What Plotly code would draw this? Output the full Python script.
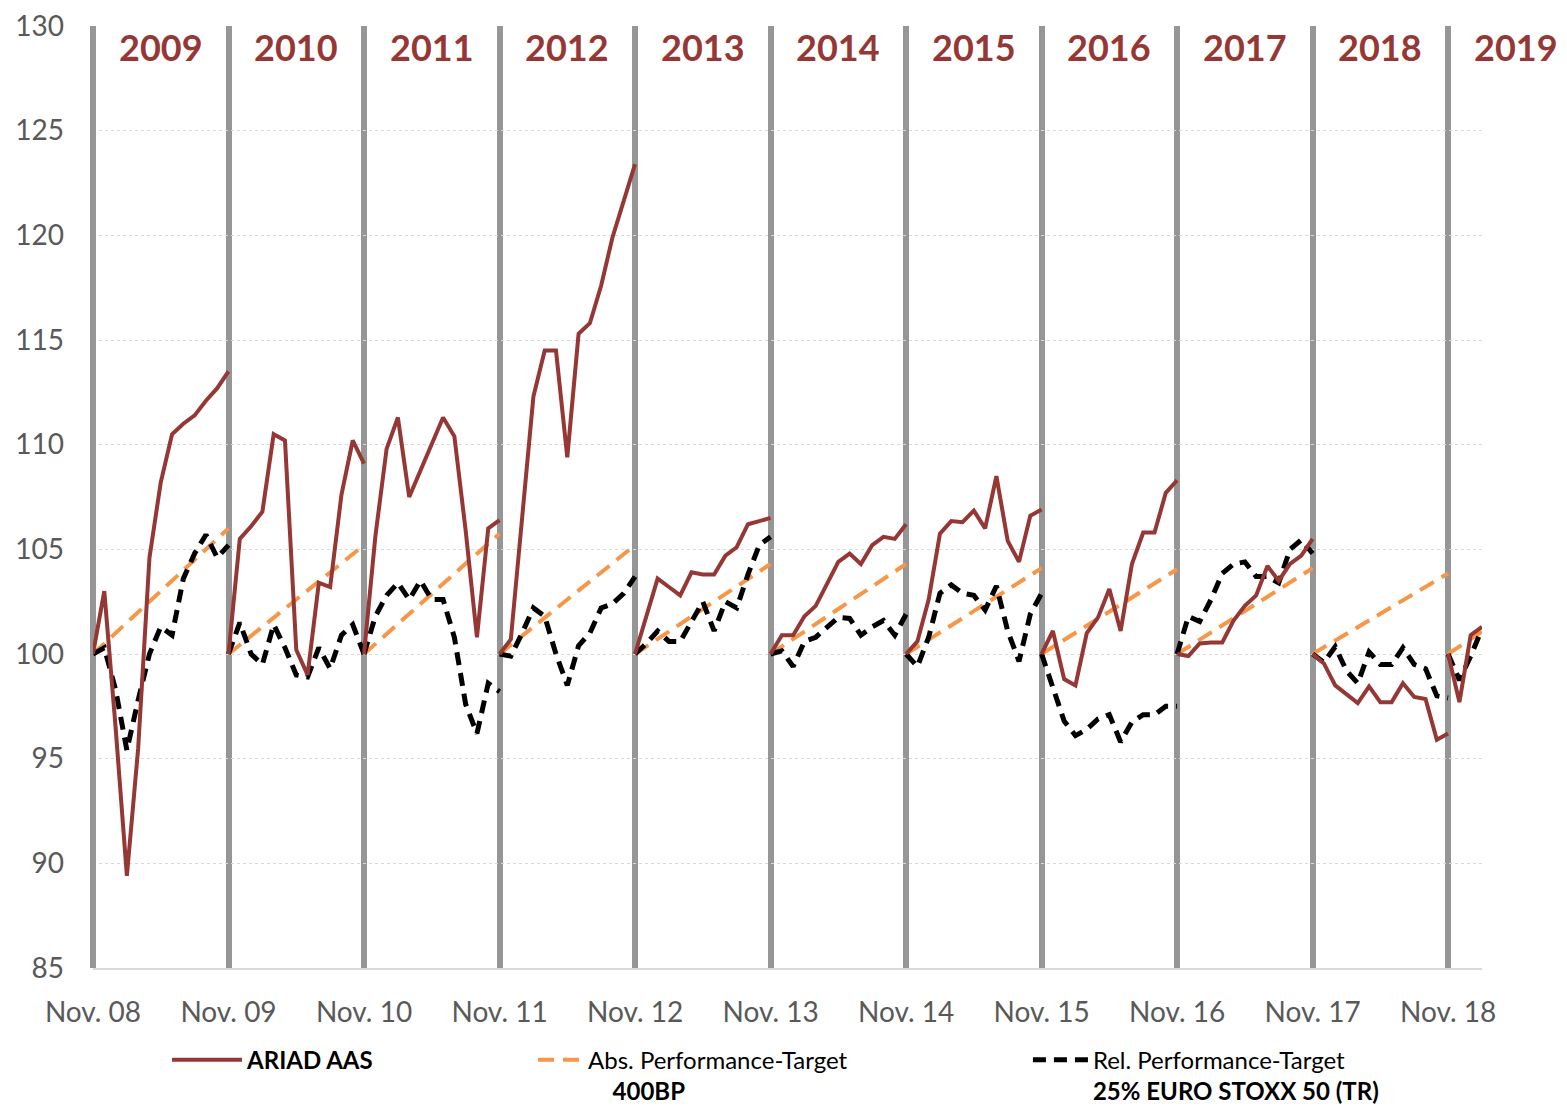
import plotly.graph_objects as go

# ---------------- data ----------------
years = [2009, 2010, 2011, 2012, 2013, 2014, 2015, 2016, 2017, 2018, 2019]
tick_labels = ["Nov. 08", "Nov. 09", "Nov. 10", "Nov. 11", "Nov. 12", "Nov. 13",
               "Nov. 14", "Nov. 15", "Nov. 16", "Nov. 17", "Nov. 18"]

# monthly values of each yearly period (Nov -> Nov), start = 100
ariad_aas = [
    [100, 103.0, 96.5, 89.4, 95.5, 104.6, 108.2, 110.5, 111.0, 111.4, 112.1, 112.7, 113.5],
    [100, 105.5, 106.1, 106.8, 110.5, 110.2, 100.2, 99.0, 103.4, 103.2, 107.6, 110.2, 109.1],
    [100, 105.6, 109.8, 111.3, 107.5, 108.8, 110.1, 111.3, 110.4, 105.9, 100.8, 106.0, 106.4],
    [100, 100.7, 106.5, 112.3, 114.5, 114.5, 109.4, 115.3, 115.8, 117.6, 119.9, 121.7, 123.4],
    [100, 101.8, 103.6, 103.2, 102.8, 103.9, 103.8, 103.8, 104.7, 105.1, 106.2, 106.35, 106.5],
    [100, 100.9, 100.9, 101.8, 102.3, 103.4, 104.4, 104.8, 104.3, 105.2, 105.6, 105.5, 106.2],
    [100, 100.6, 102.6, 105.75, 106.35, 106.3, 106.85, 106.0, 108.5, 105.4, 104.4, 106.6, 106.9],
    [100, 101.1, 98.8, 98.5, 101.0, 101.75, 103.1, 101.1, 104.3, 105.8, 105.8, 107.7, 108.3],
    [100, 99.9, 100.5, 100.55, 100.55, 101.6, 102.3, 102.8, 104.2, 103.5, 104.3, 104.7, 105.5],
    [100, 99.55, 98.5, 98.1, 97.65, 98.45, 97.7, 97.7, 98.6, 97.95, 97.85, 95.9, 96.2],
    [100, 97.7, 100.9, 101.3],
]

rel_target = [
    [100, 100.3, 98.3, 95.4, 97.8, 100.0, 101.3, 100.9, 103.6, 104.8, 105.7, 104.6, 105.2],
    [100, 101.5, 100.0, 99.5, 101.4, 100.3, 99.0, 98.9, 100.3, 99.3, 100.9, 101.4, 100.0],
    [100, 101.8, 102.8, 103.4, 102.6, 103.5, 102.6, 102.6, 100.8, 97.6, 96.2, 98.6, 98.2],
    [100, 99.9, 101.0, 102.2, 101.8, 100.0, 98.5, 100.4, 101.0, 102.2, 102.4, 102.9, 103.7],
    [100, 100.5, 101.1, 100.6, 100.6, 101.6, 102.5, 101.1, 102.5, 102.2, 103.8, 105.2, 105.6],
    [100, 100.15, 99.4, 100.6, 100.8, 101.3, 101.75, 101.7, 100.9, 101.3, 101.6, 100.9, 101.9],
    [100, 99.4, 100.8, 102.9, 103.3, 102.9, 102.8, 102.1, 103.25, 101.1, 99.65, 101.9, 102.9],
    [100, 98.4, 96.8, 96.1, 96.4, 96.9, 97.1, 95.8, 96.75, 97.1, 97.1, 97.5, 97.5],
    [100, 101.8, 101.55, 102.6, 103.85, 104.3, 104.4, 103.7, 103.7, 103.4, 105.0, 105.45, 104.8],
    [100, 99.6, 100.35, 99.2, 98.6, 100.1, 99.5, 99.5, 100.3, 99.5, 99.3, 98.0, 97.9],
    [100, 98.75, 99.9, 101.2],
]

# absolute target: straight line from 100 to the period's end value
abs_target_end = [106.0, 105.2, 105.75, 105.2, 104.3, 104.3, 104.1, 104.05, 104.1, 103.85, 101.07]
abs_target_months = [12, 12, 12, 12, 12, 12, 12, 12, 12, 12, 3]

# ---------------- styling ----------------
RED = "#953735"
ORANGE = "#F79646"
BLACK = "#000000"
GREY = "#969696"
TXT = "#595959"
FONT = "Lato"
X_MAX = 123


def segments_to_xy(segs):
    xs, ys = [], []
    for k, seg in enumerate(segs):
        for m, v in enumerate(seg):
            xs.append(12 * k + m)
            ys.append(v)
        xs.append(None)
        ys.append(None)
    return xs, ys


ax_x, ax_y = segments_to_xy(ariad_aas)
rel_x, rel_y = segments_to_xy(rel_target)
abs_x, abs_y = [], []
for k, (end, n) in enumerate(zip(abs_target_end, abs_target_months)):
    abs_x += [12 * k, 12 * k + n, None]
    abs_y += [100, end, None]

fig = go.Figure()
fig.add_trace(go.Scatter(
    x=abs_x, y=abs_y, mode="lines", connectgaps=False,
    name="Abs. Performance-Target<br>&nbsp;&nbsp;&nbsp;&nbsp;<b>400BP</b>",
    line=dict(color=ORANGE, width=4, dash="16px,9px"), legend="legend2"))
fig.add_trace(go.Scatter(
    x=rel_x, y=rel_y, mode="lines", connectgaps=False,
    name="Rel. Performance-Target<br><b>25% EURO STOXX 50 (TR)</b>",
    line=dict(color=BLACK, width=5, dash="13px,8px"), legend="legend3"))
fig.add_trace(go.Scatter(
    x=ax_x, y=ax_y, mode="lines", connectgaps=False,
    name="<b>ARIAD AAS</b>",
    line=dict(color=RED, width=4), legend="legend"))

# year labels
for k, yr in enumerate(years):
    fig.add_annotation(
        x=(12 * k + 6) / X_MAX, xref="paper", y=129.0, yref="y",
        text=f"<b>{yr}</b>", showarrow=False,
        font=dict(family=FONT, size=36, color=RED), xanchor="center", yanchor="middle")

legend_common = dict(orientation="h", yanchor="top", xanchor="left", valign="top",
                     font=dict(family=FONT, size=24, color=BLACK),
                     bgcolor="rgba(0,0,0,0)", traceorder="normal")

fig.update_layout(
    width=1559, height=1099,
    margin=dict(l=85, r=85, t=18, b=139, autoexpand=False),
    paper_bgcolor="white", plot_bgcolor="white",
    showlegend=True,
    legend=dict(x=0.0533, y=-0.074, itemwidth=70, **legend_common),
    legend2=dict(x=0.3168, y=-0.074, itemwidth=45, **legend_common),
    legend3=dict(x=0.6731, y=-0.074, itemwidth=55, **legend_common),
    xaxis=dict(range=[0, X_MAX], tickvals=[12 * i for i in range(len(tick_labels))],
               ticktext=tick_labels, showgrid=True, gridcolor=GREY, gridwidth=6,
               zeroline=True, zerolinecolor=GREY, zerolinewidth=6,
               showline=True, linecolor="#D9D9D9", linewidth=2,
               ticks="", ticklabelstandoff=18, ticklabeloverflow="allow",
               tickfont=dict(family=FONT, size=28, color=TXT)),
    yaxis=dict(range=[85, 130], dtick=5, tick0=85, showgrid=True, gridcolor="#D9D9D9",
               gridwidth=1, griddash="dot", zeroline=False, showline=False, ticks="",
               ticklabelstandoff=28, ticklabeloverflow="allow",
               tickfont=dict(family=FONT, size=28, color=TXT)),
)

fig.write_html("out.html")
